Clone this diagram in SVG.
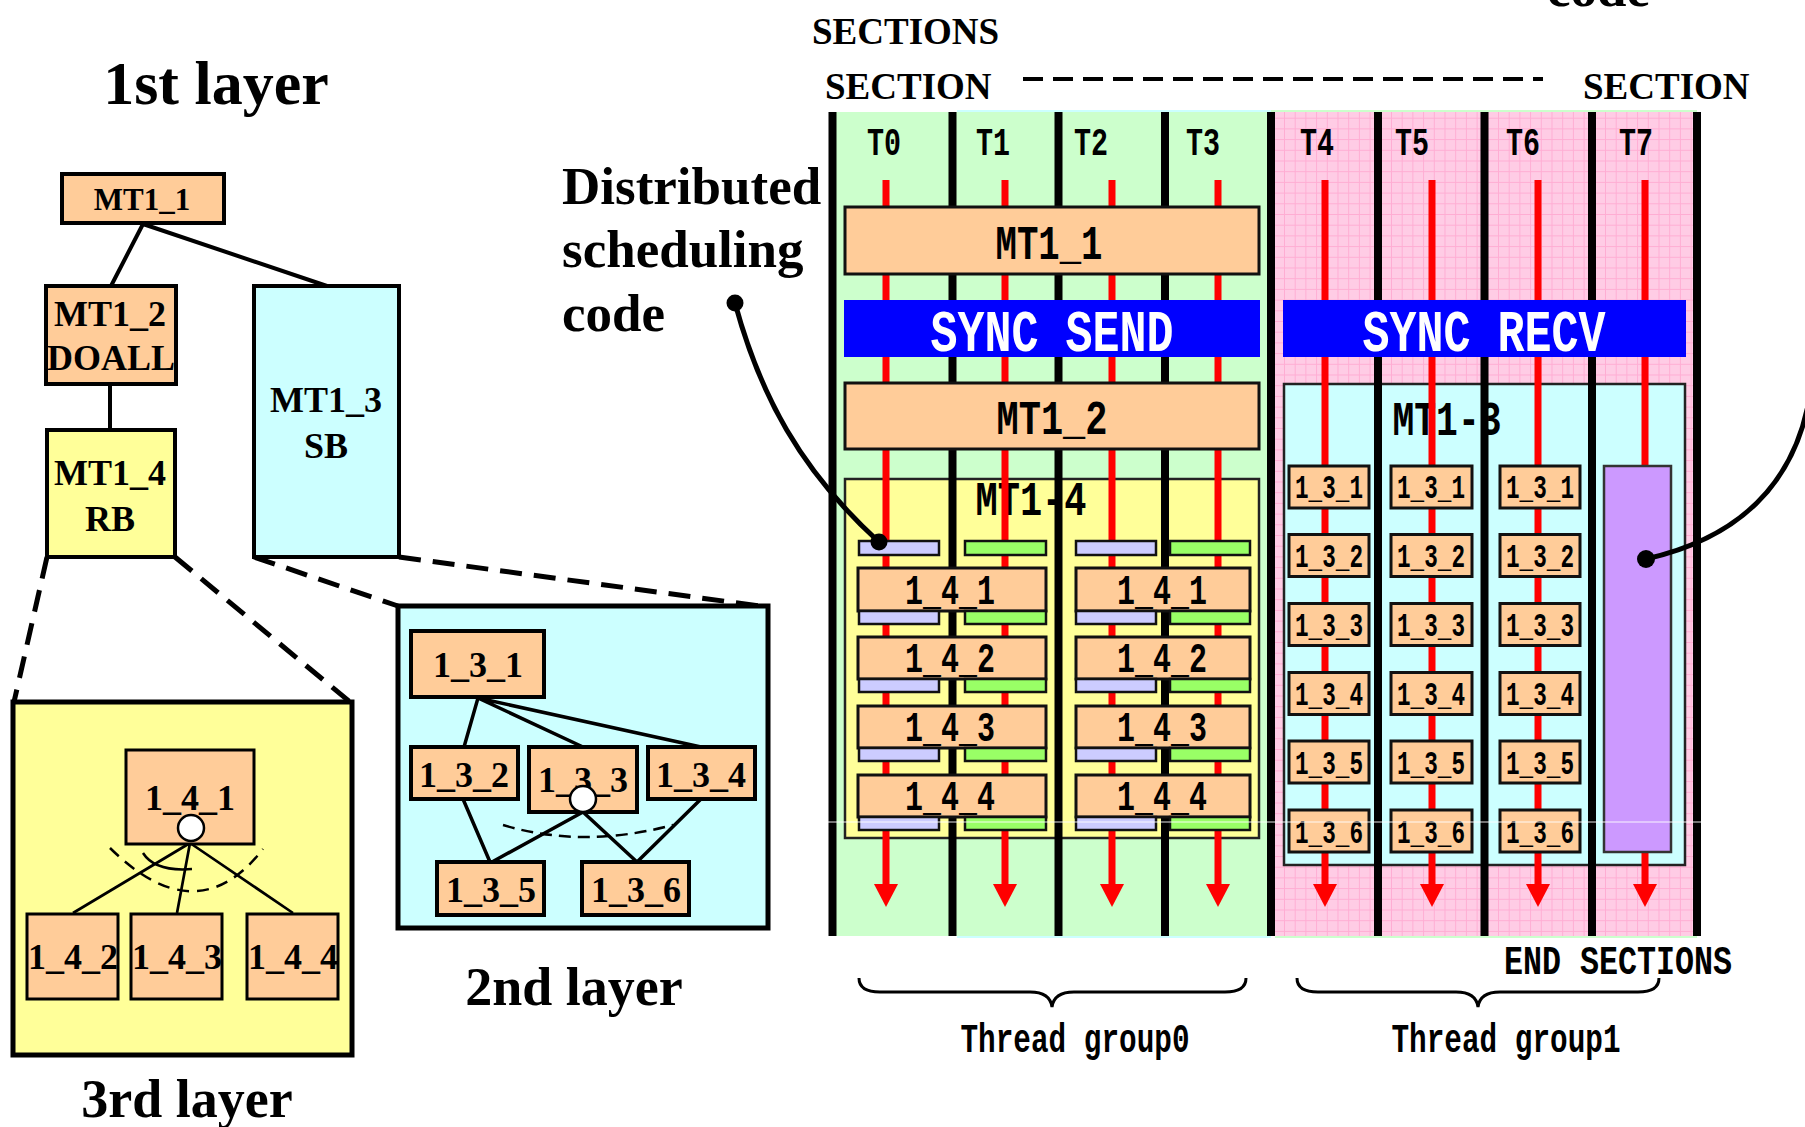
<svg xmlns="http://www.w3.org/2000/svg" width="1805" height="1127" viewBox="0 0 1805 1127">
<defs>
<style>
.ser{font-family:"Liberation Serif","Times New Roman",serif;font-weight:bold;fill:#000}
.goth{font-family:"Liberation Mono","DejaVu Sans Mono",monospace;fill:#000;font-weight:bold}
.mid{text-anchor:middle}
.or{fill:#FFCC99;stroke:#000}
.L1{stroke-width:4}
.L2{stroke-width:4}
.L3{stroke-width:3}
.edge{stroke:#000;fill:none}
.zoomline{stroke:#000;stroke-width:5;stroke-dasharray:22 12;fill:none}
.red{stroke:#FF0000;stroke-width:7;marker-end:url(#arr)}
.sep{stroke:#000;stroke-width:8}
.pbox{fill:#FFCC99;stroke:#111;stroke-width:3}
.lav{fill:#CCCCFF;stroke:#111;stroke-width:2.5}
.grn{fill:#99FF66;stroke:#111;stroke-width:2.5}
.sync{fill:#0000FF}
.synct{fill:#FFFFFF}
.ptr{stroke:#000;stroke-width:5;fill:none}
.brace{stroke:#000;stroke-width:3;fill:none}
</style>
<pattern id="pinkgrid" width="10.7" height="10.7" patternUnits="userSpaceOnUse">
<rect width="10.7" height="10.7" fill="#FFCCE5"/>
<path d="M0,0.5H10.7M0.5,0V10.7" stroke="#FF9FCC" stroke-width="1" opacity="0.7"/>
</pattern>
<marker id="arr" markerUnits="userSpaceOnUse" viewBox="0 -12 23 24" refX="0" refY="0" markerWidth="23" markerHeight="24" orient="auto">
<path d="M0,-12L23,0L0,12z" fill="#FF0000"/>
</marker>
</defs>
<rect width="1805" height="1127" fill="#FFFFFF"/>

<!-- ===== 1st layer ===== -->
<text class="ser mid" x="216" y="104" font-size="62">1st layer</text>
<g id="connectors-layers">
<path class="edge L1" d="M143,224L111,286M143,224L327,286M110,384L110,430"/>
<path class="zoomline" d="M47,557L14,702M175,557L350,702M254,557L398,606M399,557L760,606"/>
</g>
<g id="L1-MT1_1"><rect class="or L1" x="62" y="174" width="162" height="49"/><text class="ser mid" x="142" y="210" font-size="31">MT1_1</text></g>
<g id="L1-MT1_2"><rect class="or L1" x="46" y="286" width="130" height="98"/><text class="ser mid" x="110" y="326" font-size="36">MT1_2</text><text class="ser mid" x="111" y="370" font-size="36">DOALL</text></g>
<g id="L1-MT1_4"><rect x="47" y="430" width="128" height="127" fill="#FFFF99" stroke="#000" stroke-width="4"/><text class="ser mid" x="110" y="485" font-size="36">MT1_4</text><text class="ser mid" x="110" y="531" font-size="36">RB</text></g>
<g id="L1-MT1_3"><rect x="254" y="286" width="145" height="271" fill="#CCFFFF" stroke="#000" stroke-width="4"/><text class="ser mid" x="326" y="412" font-size="36">MT1_3</text><text class="ser mid" x="326" y="458" font-size="36">SB</text></g>

<!-- ===== 3rd layer ===== -->
<g id="L3-frame"><rect x="13" y="702" width="339" height="353" fill="#FFFF99" stroke="#000" stroke-width="5"/></g>
<g id="L3-connectors">
<path class="edge" stroke-width="2.7" d="M190,843L73,913M190,843L177,913M190,843L293,913"/>
<path class="edge" stroke-width="2.5" stroke-dasharray="12 8" d="M110,848Q197,934 263,849"/>
<path class="edge" stroke-width="2.5" d="M143,853Q155,872 192,869"/>
</g>
<g id="L3-1_4_1"><rect class="or L3" x="126" y="750" width="128" height="94"/><text class="ser mid" x="190" y="810" font-size="36">1_4_1</text><circle cx="191" cy="828" r="13" fill="#FFFFFF" stroke="#000" stroke-width="2.5"/></g>
<g id="L3-1_4_2"><rect class="or L3" x="27" y="914" width="91" height="85"/><text class="ser mid" x="73" y="969" font-size="36">1_4_2</text></g>
<g id="L3-1_4_3"><rect class="or L3" x="131" y="914" width="91" height="85"/><text class="ser mid" x="177" y="969" font-size="36">1_4_3</text></g>
<g id="L3-1_4_4"><rect class="or L3" x="247" y="914" width="91" height="85"/><text class="ser mid" x="293" y="969" font-size="36">1_4_4</text></g>
<text class="ser mid" x="187" y="1117" font-size="54">3rd layer</text>

<!-- ===== 2nd layer ===== -->
<g id="L2-frame"><rect x="398" y="606" width="370" height="322" fill="#CCFFFF" stroke="#000" stroke-width="5"/></g>
<g id="L2-connectors">
<path class="edge" stroke-width="3.5" d="M478,698L464,747M478,698L583,747M478,698L701,747M463,799L490,862M583,812L492,862M583,812L637,862M701,799L637,862"/>
<path class="edge" stroke-width="2.5" stroke-dasharray="12 7" d="M503,825Q583,849 673,825"/>
</g>
<g id="L2-1_3_1"><rect class="or L2" x="411" y="631" width="133" height="66"/><text class="ser mid" x="478" y="677" font-size="36">1_3_1</text></g>
<g id="L2-1_3_2"><rect class="or L2" x="411" y="747" width="107" height="52"/><text class="ser mid" x="464" y="787" font-size="36">1_3_2</text></g>
<g id="L2-1_3_3"><rect class="or L2" x="529" y="747" width="108" height="65"/><text class="ser mid" x="583" y="792" font-size="36">1_3_3</text><circle cx="583" cy="799" r="13" fill="#FFFFFF" stroke="#000" stroke-width="2.5"/></g>
<g id="L2-1_3_4"><rect class="or L2" x="648" y="747" width="107" height="52"/><text class="ser mid" x="701" y="787" font-size="36">1_3_4</text></g>
<g id="L2-1_3_5"><rect class="or L2" x="437" y="862" width="107" height="53"/><text class="ser mid" x="491" y="902" font-size="36">1_3_5</text></g>
<g id="L2-1_3_6"><rect class="or L2" x="582" y="862" width="107" height="53"/><text class="ser mid" x="636" y="902" font-size="36">1_3_6</text></g>
<text class="ser mid" x="574" y="1005" font-size="54">2nd layer</text>

<!-- ===== Labels top ===== -->
<text class="ser" x="562" y="204" font-size="53">Distributed</text>
<text class="ser" x="562" y="267" font-size="53">scheduling</text>
<text class="ser" x="562" y="331" font-size="53">code</text>
<text class="ser" x="1547" y="6" font-size="53">code</text>
<text class="ser" x="812" y="44" font-size="37">SECTIONS</text>
<text class="ser" x="825" y="99" font-size="37">SECTION</text>
<text class="ser" x="1583" y="99" font-size="37">SECTION</text>
<path d="M1023,79H1543" stroke="#000" stroke-width="4" stroke-dasharray="20 10"/>

<!-- ===== Thread panel backgrounds ===== -->
<g id="panel-bg">
<rect x="832" y="112" width="439" height="824" fill="#CCFFCC"/>
<rect x="1271" y="112" width="426" height="824" fill="url(#pinkgrid)"/>
<path d="M957,111H1271M957,937H1271" stroke="#CCFFFF" stroke-width="2"/>
<path d="M1271,111H1697M1275,937H1697" stroke="#CCFFCC" stroke-width="2"/>
</g>
<g id="thread-labels">
<text class="goth mid" x="884" y="155" font-size="39" textLength="34" lengthAdjust="spacingAndGlyphs">T0</text>
<text class="goth mid" x="993" y="155" font-size="39" textLength="34" lengthAdjust="spacingAndGlyphs">T1</text>
<text class="goth mid" x="1091" y="155" font-size="39" textLength="34" lengthAdjust="spacingAndGlyphs">T2</text>
<text class="goth mid" x="1203" y="155" font-size="39" textLength="34" lengthAdjust="spacingAndGlyphs">T3</text>
<text class="goth mid" x="1317" y="155" font-size="39" textLength="34" lengthAdjust="spacingAndGlyphs">T4</text>
<text class="goth mid" x="1412" y="155" font-size="39" textLength="34" lengthAdjust="spacingAndGlyphs">T5</text>
<text class="goth mid" x="1523" y="155" font-size="39" textLength="34" lengthAdjust="spacingAndGlyphs">T6</text>
<text class="goth mid" x="1636" y="155" font-size="39" textLength="34" lengthAdjust="spacingAndGlyphs">T7</text>
</g>

<!-- containers -->
<g id="MT1-4"><rect x="845" y="479" width="414" height="359" fill="#FFFF99" stroke="#222" stroke-width="2.5"/><text class="goth mid" x="1031" y="515" font-size="48" textLength="111" lengthAdjust="spacingAndGlyphs">MT1-4</text></g>
<g id="MT1-3"><rect x="1284" y="384" width="401" height="481" fill="#CCFFFF" stroke="#222" stroke-width="2.5"/><text class="goth mid" x="1447" y="435" font-size="48" textLength="109" lengthAdjust="spacingAndGlyphs">MT1-3</text></g>

<!-- thread lines -->
<g id="thread-connectors">
<path class="red" d="M886,180V884"/>
<path class="red" d="M1005,180V884"/>
<path class="red" d="M1112,180V884"/>
<path class="red" d="M1218,180V884"/>
<path class="red" d="M1325,180V884"/>
<path class="red" d="M1432,180V884"/>
<path class="red" d="M1538,180V884"/>
<path class="red" d="M1645,180V884"/>
<path class="sep" d="M832.5,112V936M952.5,112V936M1058.5,112V936M1165,112V936M1271,112V936M1378,112V936M1484.5,112V936M1592,112V936M1697,112V936"/>
</g>

<!-- opaque task boxes -->
<g id="MT1_1"><rect class="pbox" x="845" y="207" width="414" height="67"/><text class="goth mid" x="1049" y="259" font-size="49" textLength="107" lengthAdjust="spacingAndGlyphs">MT1_1</text></g>
<g id="SYNC_SEND"><rect class="sync" x="844" y="300" width="416" height="57"/><text class="goth mid synct" x="1052" y="351" font-size="60" textLength="243" lengthAdjust="spacingAndGlyphs">SYNC SEND</text></g>
<g id="MT1_2"><rect class="pbox" x="845" y="383" width="414" height="66"/><text class="goth mid" x="1052" y="434" font-size="49" textLength="111" lengthAdjust="spacingAndGlyphs">MT1_2</text></g>
<g id="SYNC_RECV"><rect class="sync" x="1283" y="300" width="403" height="57"/><text class="goth mid synct" x="1484" y="351" font-size="60" textLength="243" lengthAdjust="spacingAndGlyphs">SYNC RECV</text></g>

<g id="sched-bars-top">
<rect class="lav" x="859" y="541" width="80" height="14"/>
<rect class="grn" x="965" y="541" width="81" height="14"/>
<rect class="lav" x="1076" y="541" width="80" height="14"/>
<rect class="grn" x="1170" y="541" width="80" height="14"/>
</g>
<g id="T01-1_4_1"><rect class="pbox" x="858" y="568" width="188" height="43"/><text class="goth mid" x="950" y="604" font-size="42" textLength="90" lengthAdjust="spacingAndGlyphs">1_4_1</text><rect class="lav" x="859" y="611" width="80" height="13"/><rect class="grn" x="965" y="611" width="81" height="13"/></g>
<g id="T01-1_4_2"><rect class="pbox" x="858" y="637" width="188" height="42"/><text class="goth mid" x="950" y="672" font-size="42" textLength="90" lengthAdjust="spacingAndGlyphs">1_4_2</text><rect class="lav" x="859" y="679" width="80" height="13"/><rect class="grn" x="965" y="679" width="81" height="13"/></g>
<g id="T01-1_4_3"><rect class="pbox" x="858" y="706" width="188" height="42"/><text class="goth mid" x="950" y="741" font-size="42" textLength="90" lengthAdjust="spacingAndGlyphs">1_4_3</text><rect class="lav" x="859" y="748" width="80" height="13"/><rect class="grn" x="965" y="748" width="81" height="13"/></g>
<g id="T01-1_4_4"><rect class="pbox" x="858" y="775" width="188" height="42"/><text class="goth mid" x="950" y="810" font-size="42" textLength="90" lengthAdjust="spacingAndGlyphs">1_4_4</text><rect class="lav" x="859" y="817" width="80" height="13"/><rect class="grn" x="965" y="817" width="81" height="13"/></g>
<g id="T23-1_4_1"><rect class="pbox" x="1076" y="568" width="174" height="43"/><text class="goth mid" x="1162" y="604" font-size="42" textLength="90" lengthAdjust="spacingAndGlyphs">1_4_1</text><rect class="lav" x="1076" y="611" width="80" height="13"/><rect class="grn" x="1170" y="611" width="80" height="13"/></g>
<g id="T23-1_4_2"><rect class="pbox" x="1076" y="637" width="174" height="42"/><text class="goth mid" x="1162" y="672" font-size="42" textLength="90" lengthAdjust="spacingAndGlyphs">1_4_2</text><rect class="lav" x="1076" y="679" width="80" height="13"/><rect class="grn" x="1170" y="679" width="80" height="13"/></g>
<g id="T23-1_4_3"><rect class="pbox" x="1076" y="706" width="174" height="42"/><text class="goth mid" x="1162" y="741" font-size="42" textLength="90" lengthAdjust="spacingAndGlyphs">1_4_3</text><rect class="lav" x="1076" y="748" width="80" height="13"/><rect class="grn" x="1170" y="748" width="80" height="13"/></g>
<g id="T23-1_4_4"><rect class="pbox" x="1076" y="775" width="174" height="42"/><text class="goth mid" x="1162" y="810" font-size="42" textLength="90" lengthAdjust="spacingAndGlyphs">1_4_4</text><rect class="lav" x="1076" y="817" width="80" height="13"/><rect class="grn" x="1170" y="817" width="80" height="13"/></g>

<g id="T4-col">
<rect class="pbox" x="1289" y="466" width="80" height="42"/><text class="goth mid" x="1329" y="498" font-size="33" textLength="68" lengthAdjust="spacingAndGlyphs">1_3_1</text>
<rect class="pbox" x="1289" y="534.5" width="80" height="42"/><text class="goth mid" x="1329" y="567" font-size="33" textLength="68" lengthAdjust="spacingAndGlyphs">1_3_2</text>
<rect class="pbox" x="1289" y="603.5" width="80" height="42"/><text class="goth mid" x="1329" y="636" font-size="33" textLength="68" lengthAdjust="spacingAndGlyphs">1_3_3</text>
<rect class="pbox" x="1289" y="672.5" width="80" height="42"/><text class="goth mid" x="1329" y="705" font-size="33" textLength="68" lengthAdjust="spacingAndGlyphs">1_3_4</text>
<rect class="pbox" x="1289" y="741" width="80" height="42"/><text class="goth mid" x="1329" y="774" font-size="33" textLength="68" lengthAdjust="spacingAndGlyphs">1_3_5</text>
<rect class="pbox" x="1289" y="810" width="80" height="42"/><text class="goth mid" x="1329" y="843" font-size="33" textLength="68" lengthAdjust="spacingAndGlyphs">1_3_6</text>
</g>
<g id="T5-col">
<rect class="pbox" x="1391" y="466" width="81" height="42"/><text class="goth mid" x="1431" y="498" font-size="33" textLength="68" lengthAdjust="spacingAndGlyphs">1_3_1</text>
<rect class="pbox" x="1391" y="534.5" width="81" height="42"/><text class="goth mid" x="1431" y="567" font-size="33" textLength="68" lengthAdjust="spacingAndGlyphs">1_3_2</text>
<rect class="pbox" x="1391" y="603.5" width="81" height="42"/><text class="goth mid" x="1431" y="636" font-size="33" textLength="68" lengthAdjust="spacingAndGlyphs">1_3_3</text>
<rect class="pbox" x="1391" y="672.5" width="81" height="42"/><text class="goth mid" x="1431" y="705" font-size="33" textLength="68" lengthAdjust="spacingAndGlyphs">1_3_4</text>
<rect class="pbox" x="1391" y="741" width="81" height="42"/><text class="goth mid" x="1431" y="774" font-size="33" textLength="68" lengthAdjust="spacingAndGlyphs">1_3_5</text>
<rect class="pbox" x="1391" y="810" width="81" height="42"/><text class="goth mid" x="1431" y="843" font-size="33" textLength="68" lengthAdjust="spacingAndGlyphs">1_3_6</text>
</g>
<g id="T6-col">
<rect class="pbox" x="1500" y="466" width="80" height="42"/><text class="goth mid" x="1540" y="498" font-size="33" textLength="68" lengthAdjust="spacingAndGlyphs">1_3_1</text>
<rect class="pbox" x="1500" y="534.5" width="80" height="42"/><text class="goth mid" x="1540" y="567" font-size="33" textLength="68" lengthAdjust="spacingAndGlyphs">1_3_2</text>
<rect class="pbox" x="1500" y="603.5" width="80" height="42"/><text class="goth mid" x="1540" y="636" font-size="33" textLength="68" lengthAdjust="spacingAndGlyphs">1_3_3</text>
<rect class="pbox" x="1500" y="672.5" width="80" height="42"/><text class="goth mid" x="1540" y="705" font-size="33" textLength="68" lengthAdjust="spacingAndGlyphs">1_3_4</text>
<rect class="pbox" x="1500" y="741" width="80" height="42"/><text class="goth mid" x="1540" y="774" font-size="33" textLength="68" lengthAdjust="spacingAndGlyphs">1_3_5</text>
<rect class="pbox" x="1500" y="810" width="80" height="42"/><text class="goth mid" x="1540" y="843" font-size="33" textLength="68" lengthAdjust="spacingAndGlyphs">1_3_6</text>
</g>
<g id="T7-sched"><rect x="1604" y="466" width="67" height="386" fill="#CC99FF" stroke="#333" stroke-width="2.5"/></g>

<path d="M828,822H1702" stroke="#FFFFFF" stroke-width="1" opacity="0.9"/>

<!-- scheduling code pointers -->
<g id="pointers">
<path class="ptr" d="M735,303C760,395 800,470 879,542"/>
<circle cx="735" cy="303" r="8.5"/>
<circle cx="879" cy="542" r="8.5"/>
<path class="ptr" d="M1646,559C1730,540 1800,490 1812,380"/>
<circle cx="1646" cy="559" r="9"/>
</g>

<!-- bottom -->
<text class="goth mid" x="1618" y="974" font-size="41" textLength="228" lengthAdjust="spacingAndGlyphs">END SECTIONS</text>
<path class="brace" d="M859,978Q859,992 880,992H1030Q1050,992 1052,1007Q1054,992 1074,992H1225Q1246,992 1246,978"/>
<path class="brace" d="M1297,978Q1297,992 1318,992H1456Q1476,992 1478,1007Q1480,992 1500,992H1638Q1659,992 1659,978"/>
<text class="goth mid" x="1075" y="1052" font-size="41" textLength="229" lengthAdjust="spacingAndGlyphs">Thread group0</text>
<text class="goth mid" x="1506" y="1052" font-size="41" textLength="229" lengthAdjust="spacingAndGlyphs">Thread group1</text>
</svg>
